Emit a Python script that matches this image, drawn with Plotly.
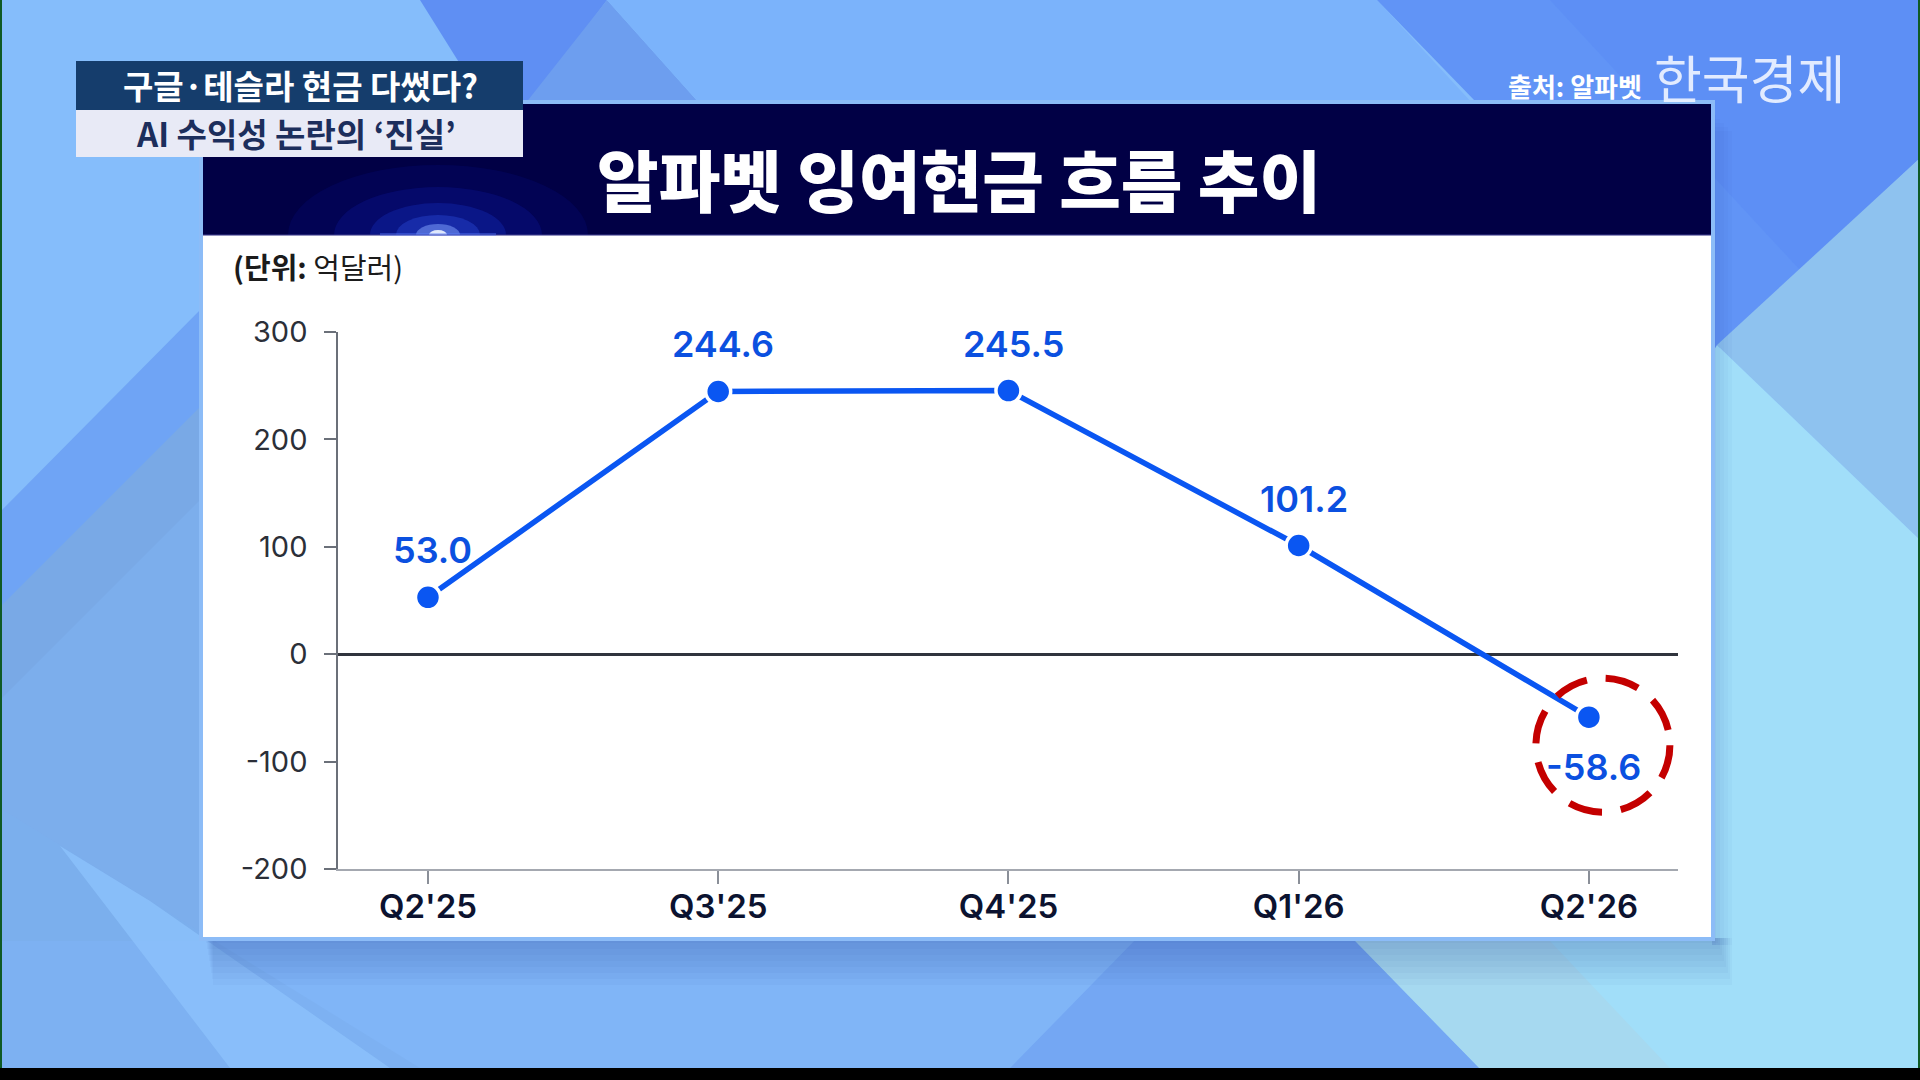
import plotly.graph_objects as go

# ---------------- data ----------------
quarters = ["Q2'25", "Q3'25", "Q4'25", "Q1'26", "Q2'26"]
fcf_values = [53.0, 244.6, 245.5, 101.2, -58.6]
y_tick_vals = [-200, -100, 0, 100, 200, 300]
y_tick_text = ["-200", "-100", "0", "100", "200", "300"]

headline_1 = "구글·테슬라 현금 다썼다?"
headline_2 = "AI 수익성 논란의 ‘진실’"
chart_title = "알파벳 잉여현금 흐름 추이"
unit_text = "<b>(단위:</b> 억달러)"
source_text = "출처: 알파벳"
brand_text = "한국경제"

# ---------------- helpers (pixel -> paper) ----------------
W, H = 1920, 1080
KR = "Noto Sans CJK KR"
NUM = "Inter"


def px(x):
    return x / W


def py(y):
    return 1 - y / H


def rect(x0, y0, x1, y1, color, layer="below", opacity=1.0):
    return dict(type="rect", xref="paper", yref="paper",
                x0=px(x0), x1=px(x1), y0=py(y1), y1=py(y0),
                fillcolor=color, line=dict(width=0), layer=layer, opacity=opacity)


def poly(points, color, opacity=1.0):
    d = "M " + " L ".join(f"{px(x):.5f},{py(y):.5f}" for x, y in points) + " Z"
    return dict(type="path", xref="paper", yref="paper", path=d,
                fillcolor=color, line=dict(width=0), layer="below", opacity=opacity)


def ellipse(cx, cy, rx, ry, color, opacity=1.0):
    return dict(type="circle", xref="paper", yref="paper",
                x0=px(cx - rx), x1=px(cx + rx), y0=py(cy + ry), y1=py(cy - ry),
                fillcolor=color, line=dict(width=0), layer="below", opacity=opacity)


shapes = []
# ---- background ----
shapes.append(rect(0, 0, W, H, "#85bdfb"))
# left diagonal bands (only left of the panel)
shapes.append(poly([(0, 512), (203, 307), (203, 1068), (0, 1068)], "#6fa4f5"))
shapes.append(poly([(0, 607), (203, 404), (203, 1068), (0, 1068)], "#79a9e6"))
shapes.append(poly([(0, 700), (203, 497), (203, 1068), (0, 1068)], "#7eb0ee", 0.7))
# bottom strip
shapes.append(poly([(0, 941), (1134, 941), (1010, 1068), (0, 1068)], "#80b5f7"))
shapes.append(poly([(0, 808), (420, 1068), (0, 1068)], "#7cafef", 0.6))
shapes.append(poly([(60, 846), (150, 901), (390, 1068), (230, 1068)], "#8cc2fb", 0.8))
# top band
shapes.append(poly([(420, 0), (607, 0), (530, 104), (485, 104)], "#5f8ff3"))
shapes.append(poly([(607, 0), (700, 104), (525, 104)], "#6d9eef"))
shapes.append(poly([(607, 0), (1377, 0), (1473, 104), (700, 104)], "#7bb3fb"))
# right side
shapes.append(poly([(1377, 0), (1920, 0), (1920, 158), (1717, 350)], "#6194f6"))
shapes.append(poly([(1550, 0), (1920, 0), (1920, 158), (1800, 270)], "#5a8cf5", 0.6))
shapes.append(poly([(1717, 345), (1920, 158), (1920, 540)], "#8ec2ef"))
shapes.append(poly([(1717, 345), (1920, 540), (1920, 1068), (1479, 1068), (1355, 941)], "#a1def9"))
shapes.append(poly([(1355, 941), (1550, 941), (1670, 1068), (1479, 1068)], "#a6d9f0"))
# bottom darker trapezoid
shapes.append(poly([(1134, 941), (1355, 941), (1479, 1068), (1010, 1068)], "#74a7f3"))
# ---- panel shadow (stacked soft bands) ----
for i in range(8):
    shapes.append(rect(206 + i, 938, 1718 + 2 * i, 943 + 6 * i, "#1f4290", opacity=0.035))
for i in range(5):
    shapes.append(rect(1712, 115 + 4 * i, 1716 + 4 * i, 945, "#1f4290", opacity=0.03))
# ---- panel ----
shapes.append(rect(199, 100, 1715, 941, "#8cbcf7"))
shapes.append(rect(203, 104, 1711, 235, "#010045"))
glow_cx, glow_cy = 438, 235
for rx, ry, col, op in [(150, 70, "#0a12a8", 0.16), (104, 48, "#1428d0", 0.18),
                        (68, 32, "#1f44f0", 0.22), (42, 20, "#3a64ff", 0.28),
                        (22, 11, "#86a8ff", 0.5), (9, 5, "#f0f6ff", 0.9)]:
    shapes.append(ellipse(glow_cx, glow_cy, rx, ry, col, op))
shapes.append(rect(203, 235, 1711, 937, "#ffffff"))
shapes.append(rect(203, 234, 1711, 236, "#3c3a8a", opacity=0.55))
shapes.append(rect(380, 233, 496, 236, "#5a7dff", opacity=0.4))
# ---- headline boxes ----
shapes.append(rect(76, 61, 523, 110, "#153d6c"))
shapes.append(rect(76, 110, 523, 157, "#e8eaf6"))
# ---- frame edges ----
shapes.append(rect(0, 1068, W, H, "#000000"))
shapes.append(rect(0, 0, 2, 1068, "#0f5a25"))
shapes.append(rect(1918, 0, W, 1068, "#0f5a25"))

# highlight circle around the last point (pixel-sized, anchored on the data point)
shapes.append(dict(type="circle", xref="x", yref="y",
                   xsizemode="pixel", ysizemode="pixel",
                   xanchor=quarters[-1], yanchor=fcf_values[-1],
                   x0=-53, x1=81, y0=-95, y1=39,
                   line=dict(color="#c40000", width=7, dash="34px,19px"),
                   fillcolor="rgba(0,0,0,0)", layer="above"))

# ---------------- figure ----------------
fig = go.Figure()
fig.add_trace(go.Scatter(
    x=quarters, y=fcf_values, mode="lines+markers",
    line=dict(color="#0a56f2", width=5.5),
    marker=dict(size=25, color="#0a56f2", line=dict(color="#ffffff", width=3.5)),
    cliponaxis=False, hoverinfo="skip", showlegend=False,
))

annotations = []
for q, v in zip(quarters, fcf_values):
    annotations.append(dict(
        x=q, y=v, xref="x", yref="y", text=f"{v:.1f}", showarrow=False,
        yshift=47 if v >= 0 else -50, xshift=5,
        font=dict(family=NUM, size=36, color="#0b50e0", weight=600),
        xanchor="center", yanchor="middle"))

annotations += [
    dict(x=px(300), y=py(85), xref="paper", yref="paper", text=headline_1, showarrow=False,
         font=dict(family=KR, size=33, color="#ffffff", weight=700), xanchor="center", yanchor="middle"),
    dict(x=px(296), y=py(133), xref="paper", yref="paper", text=headline_2, showarrow=False,
         font=dict(family=KR, size=33, color="#1c2e5c", weight=700), xanchor="center", yanchor="middle"),
    dict(x=px(959), y=py(178), xref="paper", yref="paper", text=chart_title, showarrow=False,
         font=dict(family=KR, size=67, color="#ffffff", weight=900), xanchor="center", yanchor="middle"),
    dict(x=px(231), y=py(266), xref="paper", yref="paper", text=unit_text, showarrow=False,
         font=dict(family=KR, size=29, color="#1b1b1b"), xanchor="left", yanchor="middle"),
    dict(x=px(1644), y=py(86), xref="paper", yref="paper", text=source_text, showarrow=False,
         font=dict(family=KR, size=26, color="#ffffff", weight=700), xanchor="right", yanchor="middle"),
    dict(x=px(1652), y=py(76), xref="paper", yref="paper", text=brand_text, showarrow=False,
         font=dict(family=KR, size=52, color="rgba(238,243,255,0.92)", weight=400),
         xanchor="left", yanchor="middle"),
]

fig.update_layout(
    width=W, height=H, autosize=False,
    margin=dict(l=0, r=0, t=0, b=0, pad=0),
    paper_bgcolor="#85bdfb", plot_bgcolor="rgba(0,0,0,0)",
    shapes=shapes, annotations=annotations, showlegend=False,
    xaxis=dict(
        domain=[px(338), px(1678)], type="category", range=[-0.31, 4.307],
        showgrid=False, zeroline=False, showline=True, linecolor="#a4a8b0", linewidth=2,
        ticks="outside", ticklen=13, tickwidth=1.5, tickcolor="#8a8f98",
        tickfont=dict(family=NUM, size=33, color="#0c1330", weight=600),
        ticklabelstandoff=-6,
        fixedrange=True, automargin=False,
    ),
    yaxis=dict(
        domain=[py(869), py(332)], range=[-200, 300],
        tickvals=y_tick_vals, ticktext=y_tick_text,
        showgrid=False, zeroline=True, zerolinecolor="#30343d", zerolinewidth=3,
        showline=True, linecolor="#6b7079", linewidth=1.5,
        ticks="outside", ticklen=12, tickwidth=1.5, tickcolor="#6b7079",
        tickfont=dict(family=NUM, size=29, color="#2b2f38"),
        ticklabelstandoff=11,
        fixedrange=True, automargin=False,
    ),
)

fig.write_html(
    "out.html",
    config={"displayModeBar": False},
    post_script="document.body.style.margin='0';document.body.style.overflow='hidden';",
)
